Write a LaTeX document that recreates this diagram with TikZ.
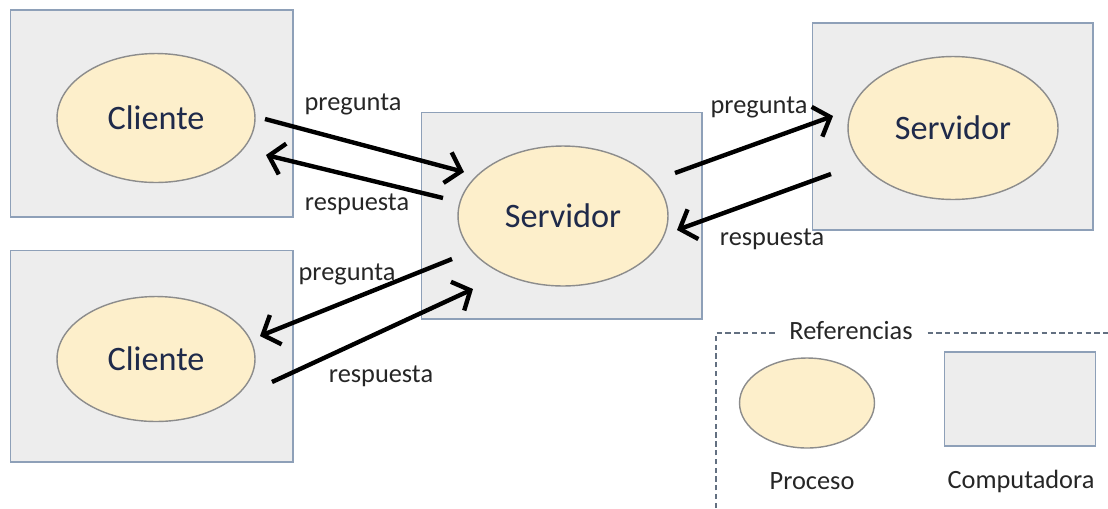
\documentclass[tikz,border=0pt]{standalone}
\usepackage{fontspec}
\setmainfont{Carlito}
\usetikzlibrary{arrows.meta,shapes.geometric}
\definecolor{cajagris}{HTML}{EDEDED}
\definecolor{bordecaja}{HTML}{8EA0B8}
\definecolor{crema}{HTML}{FDEFCB}
\definecolor{bordeproc}{HTML}{8C8C8C}
\definecolor{tinta}{HTML}{1F2A4A}
\tikzset{
  compu/.style={draw=bordecaja,fill=cajagris,line width=0.6pt,inner sep=0pt},
  proceso/.style={ellipse,draw=bordeproc,fill=crema,line width=0.8pt,inner sep=0pt,
    text=tinta,font=\fontsize{19.5}{22}\selectfont},
  etiqueta/.style={inner sep=0pt,text=black!85,font=\fontsize{15}{18}\selectfont},
  flecha/.style={line width=2.5pt,-{Straight Barb[length=8pt,width=18pt]}}
}
\begin{document}
\begin{tikzpicture}[x=0.02cm,y=-0.02cm]
  \useasboundingbox (0,0) rectangle (1108,508);
  % computadoras
  \node[compu,minimum width=5.66cm,minimum height=4.14cm](pc1) at (151.5,113.5){};
  \node[compu,minimum width=5.66cm,minimum height=4.24cm](pc2) at (151.5,356){};
  \node[compu,minimum width=5.62cm,minimum height=4.14cm](pc3) at (561.5,215.5){};
  \node[compu,minimum width=5.62cm,minimum height=4.14cm](pc4) at (952.5,126.5){};
  % procesos
  \node[proceso,minimum width=3.96cm,minimum height=2.58cm](cli1) at (156,118){Cliente};
  \node[proceso,minimum width=3.96cm,minimum height=2.50cm](cli2) at (156,359){Cliente};
  \node[proceso,minimum width=4.20cm,minimum height=2.80cm](serv1) at (563,216){Servidor};
  \node[proceso,minimum width=4.20cm,minimum height=2.86cm](serv2) at (953,128){Servidor};
  % extremos de las flechas
  \coordinate(c1a) at (265,119);  \coordinate(s1a) at (464,172);
  \coordinate(s1b) at (443,198);  \coordinate(c1b) at (266,155);
  \coordinate(s1c) at (452,259);  \coordinate(c2a) at (260,336);
  \coordinate(c2b) at (272,382);  \coordinate(s1d) at (473,289);
  \coordinate(s1e) at (675,173);  \coordinate(s2a) at (833,116);
  \coordinate(s2b) at (831,174);  \coordinate(s1f) at (677,230);
  \node[etiqueta](preg1) at (353,104){pregunta};
  \node[etiqueta](resp1) at (357,204){respuesta};
  \node[etiqueta](preg2) at (347,274){pregunta};
  \node[etiqueta](resp2) at (381,376){respuesta};
  \node[etiqueta](preg3) at (759,107){pregunta};
  \node[etiqueta](resp3) at (772,239){respuesta};
  \draw[flecha](c1a)--(s1a);
  \draw[flecha](s1b)--(c1b);
  \draw[flecha](s1c)--(c2a);
  \draw[flecha](c2b)--(s1d);
  \draw[flecha](s1e)--(s2a);
  \draw[flecha](s2b)--(s1f);
  % referencias
  \coordinate(r0) at (716,508);
  \coordinate(r1) at (716,333);
  \coordinate(r2) at (1108,333);
  \draw[bordecaja!70!black,line width=0.6pt,dash pattern=on 3pt off 2pt](r0)--(r1)--(r2);
  \node[etiqueta,fill=white,inner xsep=8pt,inner ysep=2pt](ref) at (851,331){Referencias};
  \node[proceso,minimum width=2.70cm,minimum height=1.80cm](proc) at (807,403){};
  \node[compu,minimum width=3.02cm,minimum height=1.88cm](comp) at (1020,399){};
  \node[etiqueta](lproc) at (812,481){Proceso};
  \node[etiqueta](lcomp) at (1021,481){Computadora};
\end{tikzpicture}
\end{document}
